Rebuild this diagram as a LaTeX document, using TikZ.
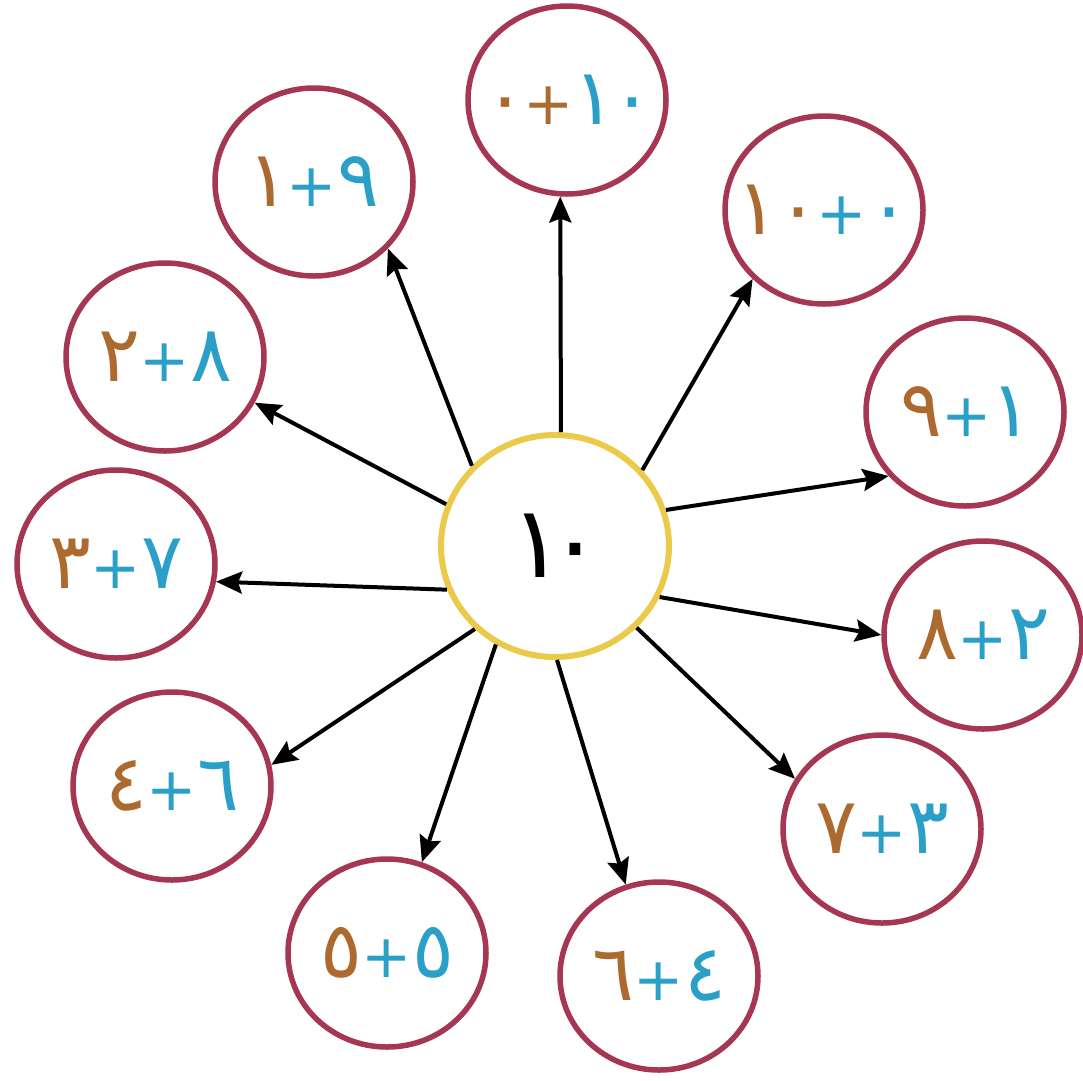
\documentclass[tikz,border=0pt]{standalone}
\usepackage{fontspec}
\usetikzlibrary{arrows.meta,shapes.geometric}
\newfontfamily\arfont{DejaVu Sans}
\definecolor{ringred}{RGB}{165,55,82}
\definecolor{hubyellow}{RGB}{234,202,72}
\definecolor{brn}{RGB}{172,106,46}
\definecolor{blu}{RGB}{42,160,200}
\newcommand\dg[2]{\makebox[#1pt][c]{#2}}
\newcommand\pls[1]{\makebox[48pt][c]{\fontsize{60}{60}\selectfont\color{#1}+}}
% #1 left glyphs, #2 plus colour, #3 right glyphs
\newcommand\lbl[3]{\makebox[0pt][c]{\raisebox{-8pt}{\arfont\fontsize{78}{78}\selectfont{\color{brn}#1}\pls{#2}{\color{blu}#3}}}}
\begin{document}
\begin{tikzpicture}[x=1pt,y=-1pt,
  outer/.style={ellipse,draw=ringred,line width=5.5pt,minimum width=198pt,minimum height=188pt,inner sep=0pt,fill=white},
  hubnode/.style={ellipse,draw=hubyellow,line width=6pt,minimum width=228pt,minimum height=222pt,inner sep=0pt,fill=white},
  arr/.style={-{Stealth[length=26pt,width=22pt,inset=4pt]},line width=4pt,black}]
\useasboundingbox[fill=white] (0,0) rectangle (1083,1080);
\node[hubnode] (hub) at (555,546) {\makebox[0pt][c]{\raisebox{-6pt}{\arfont\fontsize{100}{100}\selectfont\dg{40}{١}\dg{36}{٠}}}};
\node[outer] (A) at (567,100) {\lbl{\dg{40}{٠}}{brn}{\dg{42}{١}\dg{34}{٠}}};
\node[outer] (B) at (314,182) {\lbl{\dg{40}{١}}{blu}{\dg{44}{٩}}};
\node[outer] (C) at (824,210) {\lbl{\dg{42}{١}\dg{40}{٠}}{blu}{\dg{46}{٠}}};
\node[outer] (D) at (965,412) {\lbl{\dg{44}{٩}}{blu}{\dg{40}{١}}};
\node[outer] (E) at (983,635) {\lbl{\dg{44}{٨}}{blu}{\dg{44}{٢}}};
\node[outer] (F) at (882,829) {\lbl{\dg{44}{٧}}{blu}{\dg{44}{٣}}};
\node[outer] (G) at (659,976) {\lbl{\dg{44}{٦}}{blu}{\dg{44}{٤}}};
\node[outer] (H) at (387,953) {\lbl{\dg{44}{٥}}{blu}{\dg{44}{٥}}};
\node[outer] (I) at (172,786) {\lbl{\dg{44}{٤}}{blu}{\dg{44}{٦}}};
\node[outer] (J) at (116,564) {\lbl{\dg{44}{٣}}{blu}{\dg{44}{٧}}};
\node[outer] (K) at (165,357) {\lbl{\dg{44}{٢}}{blu}{\dg{44}{٨}}};
\draw[arr] (hub.87.5) -- (A.-94);
\draw[arr] (hub.136) -- (B.-42);
\draw[arr] (hub.41.5) -- (C.-136);
\draw[arr] (hub.18) -- (D.-140);
\draw[arr] (hub.-26) -- (E.180);
\draw[arr] (hub.-45.7) -- (F.150);
\draw[arr] (hub.-89) -- (G.110);
\draw[arr] (hub.-121.6) -- (H.69);
\draw[arr] (hub.-134.7) -- (I.12);
\draw[arr] (hub.-158) -- (J.-10);
\draw[arr] (hub.159.5) -- (K.-27);
\end{tikzpicture}
\end{document}
